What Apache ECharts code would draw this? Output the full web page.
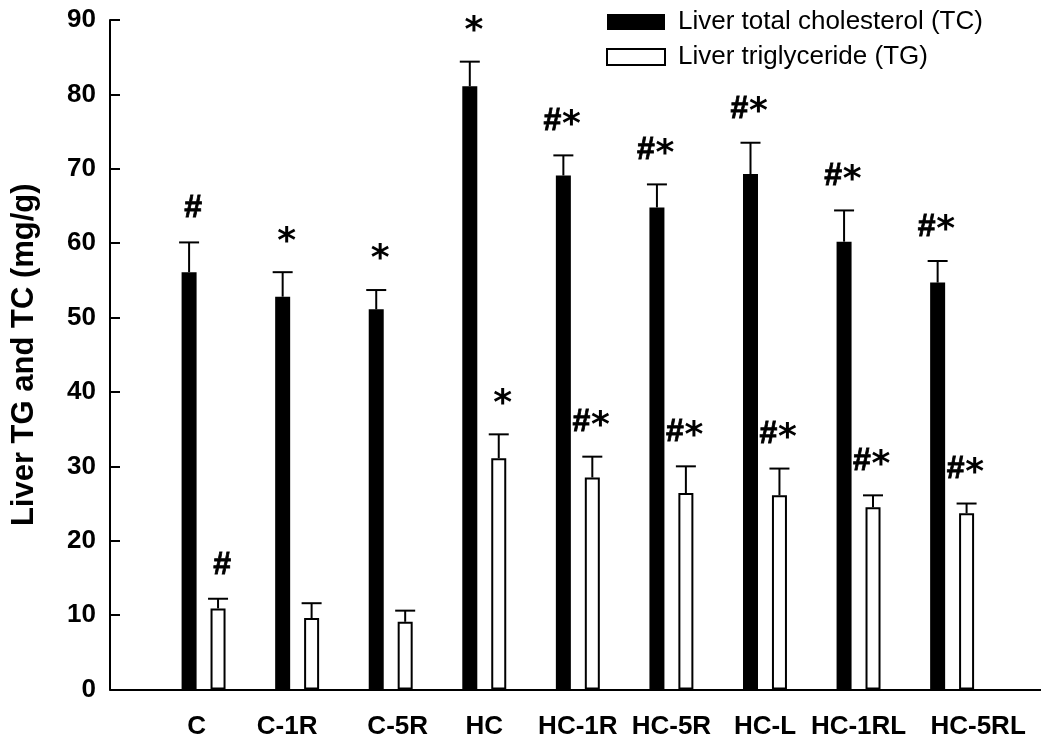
<!DOCTYPE html>
<html>
<head>
<meta charset="utf-8">
<script src="https://cdn.jsdelivr.net/npm/echarts@6/dist/echarts.min.js"></script>
<style>
  html, body { margin: 0; padding: 0; background: #fff; }
  #chart { width: 1041px; height: 740px; }
</style>
</head>
<body>
<div id="chart"></div>
<script>
// Liver lipid content per treatment group (mean and SD, mg/g)
const categories = ['C', 'C-1R', 'C-5R', 'HC', 'HC-1R', 'HC-5R', 'HC-L', 'HC-1RL', 'HC-5RL'];
const tcMean = [56.1, 52.8, 51.1, 81.1, 69.1, 64.8, 69.3, 60.2, 54.7];
const tcSD   = [4.0, 3.3, 2.6, 3.3, 2.7, 3.1, 4.2, 4.2, 2.9];
const tgMean = [10.9, 9.6, 9.1, 31.1, 28.5, 26.4, 26.1, 24.5, 23.7];
const tgSD   = [1.3, 2.0, 1.5, 3.2, 2.8, 3.6, 3.6, 1.6, 1.3];
// significance marks shown above each error bar
const tcMarks = ['#', '*', '*', '*', '#*', '#*', '#*', '#*', '#*'];
const tgMarks = ['#', '', '', '*', '#*', '#*', '#*', '#*', '#*'];
const seriesNames = ['Liver total cholesterol (TC)', 'Liver triglyceride (TG)'];
const yMin = 0, yMax = 90, yStep = 10;

const FONT = '"Liberation Sans", Arial, sans-serif';
const BAR_W = 15;
const BAR_GAP = 0.93;
const HALF_SHIFT = (BAR_W + BAR_W * BAR_GAP) / 2; // centre offset of each bar from its group

function barData(values) {
  return values.map((v, i) => [i, v]);
}
function errData(mean, sd) {
  return mean.map((m, i) => [i, m, +(m + sd[i]).toFixed(2)]);
}

function makeErrorRenderer(side, marks) {
  return function (params, api) {
    const i = api.value(0);
    const base = api.coord([i, api.value(1)]);
    const top = api.coord([i, api.value(2)]);
    const cx = base[0] + side * HALF_SHIFT;
    const children = [
      { type: 'line', shape: { x1: cx, y1: base[1], x2: cx, y2: top[1] },
        style: { stroke: '#000', lineWidth: 2 } },
      { type: 'line', shape: { x1: cx - 10, y1: top[1], x2: cx + 10, y2: top[1] },
        style: { stroke: '#000', lineWidth: 2 } }
    ];
    const mark = marks[params.dataIndex];
    const hash = (x) => ({ type: 'text', style: {
      text: '#', x: x, y: top[1] - 34, fill: '#000', stroke: '#000', lineWidth: 0.8,
      font: 'bold 32px ' + FONT, align: 'center', verticalAlign: 'middle' } });
    const star = (x) => ({ type: 'text', style: {
      text: '*', x: x, y: top[1] - 30, fill: '#000',
      font: 'bold 36px "DejaVu Sans", sans-serif', align: 'center', verticalAlign: 'middle' } });
    if (mark === '#') children.push(hash(cx + 4));
    else if (mark === '*') children.push(star(cx + 4));
    else if (mark === '#*') { children.push(hash(cx - 11)); children.push(star(cx + 8)); }
    return { type: 'group', children: children };
  };
}

const labelShift = {
  'C': 'sl7', 'C-1R': 'sl10', 'C-5R': 'sr7', 'HC-5RL': 'sr26'
};
const labelFont = { fontSize: 26, fontWeight: 'bold', fontFamily: FONT, color: '#000' };

const chart = echarts.init(document.getElementById('chart'), null, { renderer: 'canvas' });
chart.setOption({
  animation: false,
  backgroundColor: '#fff',
  textStyle: { fontFamily: FONT },
  grid: { left: 110, right: 0, top: 20, bottom: 50.5, outerBoundsMode: 'none', containLabel: false },
  legend: {
    orient: 'vertical',
    left: 606, top: 9,
    icon: 'rect',
    itemWidth: 58, itemHeight: 16, itemGap: 9,
    padding: 0,
    data: seriesNames,
    textStyle: { fontSize: 26, color: '#000', fontFamily: FONT, lineHeight: 26, padding: [0, 0, 0, 8] }
  },
  xAxis: {
    type: 'value',
    min: -1, max: 8.95, interval: 1,
    splitLine: { show: false },
    axisTick: { show: false },
    axisLine: { show: true, onZero: false, lineStyle: { color: '#000', width: 2 } },
    axisLabel: Object.assign({
      margin: 24,
      showMinLabel: true, showMaxLabel: true,
      formatter: function (v) {
        if (Math.abs(v - Math.round(v)) > 1e-6) return '';
        const name = categories[Math.round(v)];
        if (!name) return '';
        const key = labelShift[name];
        return key ? '{' + key + '|' + name + '}' : name;
      },
      rich: {
        sl7: Object.assign({ padding: [0, 14, 0, 0] }, labelFont),
        sl10: Object.assign({ padding: [0, 20, 0, 0] }, labelFont),
        sr7: Object.assign({ padding: [0, 0, 0, 14] }, labelFont),
        sr26: Object.assign({ padding: [0, 0, 0, 52] }, labelFont)
      }
    }, labelFont)
  },
  yAxis: {
    type: 'value',
    min: yMin, max: yMax, interval: yStep,
    name: 'Liver TG and TC (mg/g)',
    nameLocation: 'middle',
    nameRotate: 90,
    nameGap: 70,
    nameTextStyle: { fontSize: 31, fontWeight: 'bold', color: '#000', fontFamily: FONT },
    splitLine: { show: false },
    axisLine: { show: true, onZero: false, lineStyle: { color: '#000', width: 2 } },
    axisTick: { show: true, inside: true, length: 10, lineStyle: { color: '#000', width: 2 } },
    axisLabel: Object.assign({ margin: 14 }, labelFont)
  },
  series: [
    {
      name: seriesNames[0], type: 'bar',
      data: barData(tcMean),
      barWidth: BAR_W, barGap: (BAR_GAP * 100) + '%',
      itemStyle: { color: '#000' }
    },
    {
      name: seriesNames[1], type: 'bar',
      data: barData(tgMean),
      barWidth: BAR_W, barGap: (BAR_GAP * 100) + '%',
      itemStyle: { color: '#fff', borderColor: '#000', borderWidth: 2 }
    },
    {
      type: 'custom', name: 'tc-sd', z: 5, silent: true,
      data: errData(tcMean, tcSD),
      encode: { x: 0, y: [1, 2] },
      renderItem: makeErrorRenderer(-1, tcMarks)
    },
    {
      type: 'custom', name: 'tg-sd', z: 5, silent: true,
      data: errData(tgMean, tgSD),
      encode: { x: 0, y: [1, 2] },
      renderItem: makeErrorRenderer(1, tgMarks)
    }
  ]
});
</script>
</body>
</html>
